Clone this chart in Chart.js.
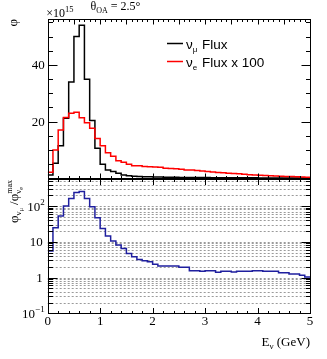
<!DOCTYPE html>
<html><head><meta charset="utf-8">
<script src="https://cdn.jsdelivr.net/npm/chart.js@4.4.0/dist/chart.umd.min.js"></script>
<style>
html,body{margin:0;padding:0;background:#fff;}
#wrap{position:relative;width:327px;height:359px;background:#fff;}
canvas{position:absolute;left:0;top:0;}
</style></head><body>
<div id="wrap"><canvas id="cTop" width="327" height="359"></canvas><canvas id="cBot" width="327" height="359"></canvas></div>
<script>
// ---- data (bins of 0.1 GeV) ----
const binEdges = [0,0.1,0.2,0.3,0.4,0.5,0.6,0.7,0.8,0.9,1.0,1.1,1.2,1.3,1.4,1.5,1.6,1.7,1.8,1.9,2.0,2.1,2.2,2.3,2.4,2.5,2.6,2.7,2.8,2.9,3.0,3.1,3.2,3.3,3.4,3.5,3.6,3.7,3.8,3.9,4.0,4.1,4.2,4.3,4.4,4.5,4.6,4.7,4.8,4.9,5.0];
// nu_mu flux, units of 10^15
const numuFlux = [1.2,5.3,11.5,21.2,34.0,50.0,54.0,35.0,20.4,10.6,
  5.0,3.0,2.4,1.8,1.2,0.9,0.8,0.65,0.6,0.55,
  0.5,0.46,0.43,0.4,0.38,0.36,0.34,0.32,0.31,0.3,
  0.28,0.27,0.26,0.25,0.24,0.23,0.22,0.21,0.2,0.19,
  0.18,0.17,0.16,0.15,0.15,0.14,0.13,0.12,0.12,0.11];
// nu_e flux x 100, units of 10^15
const nueFluxX100 = [2.2,10.0,17.1,21.5,23.0,23.3,21.4,19.6,17.7,14.1,
  11.5,9.0,7.8,6.2,5.7,5.0,4.5,4.5,4.2,4.1,
  4.0,3.9,3.6,3.5,3.4,3.2,3.0,2.95,2.8,2.6,
  2.4,2.25,2.1,1.95,1.85,1.7,1.6,1.45,1.3,1.2,
  1.1,1.0,0.95,0.85,0.8,0.7,0.65,0.55,0.5,0.42];
// ratio panel
const ratio = [5.5,24.6,53,100,163,240,256,163,95,47,
  23.7,14.4,10.5,8.1,6.5,4.7,3.8,3.2,2.95,2.76,
  2.34,2.1,2.1,2.1,2.1,1.93,1.93,1.55,1.55,1.49,
  1.55,1.55,1.40,1.49,1.49,1.43,1.49,1.49,1.49,1.55,
  1.55,1.49,1.49,1.49,1.36,1.36,1.25,1.25,1.15,1.03];
const xTickLabels = ['0','1','2','3','4','5'];
const topYTickValues = [20,40];
const botYTickValues = [0.1,1,10,100];
const botYTickExp = ['-1','0','1','2'];

const SERIF = '"Liberation Serif","Times New Roman",serif';
const SANS = '"Liberation Sans",Arial,sans-serif';

function histPoints(vals){
  return binEdges.map((e,i)=>({x:e, y: vals[Math.min(i, vals.length-1)]}));
}

// draw rich text: segs = [{t, size, dy, font}]
function richWidth(ctx, segs){
  let w=0; for(const s of segs){ ctx.font = s.size+'px '+(s.font||SERIF); w+=ctx.measureText(s.t).width + (s.dx||0);} return w;
}
function drawRich(ctx, segs, x, y, align){
  const w = richWidth(ctx, segs);
  let cx = align==='right' ? x-w : (align==='center' ? x-w/2 : x);
  ctx.textBaseline='alphabetic'; ctx.textAlign='left';
  for(const s of segs){
    ctx.font = s.size+'px '+(s.font||SERIF);
    ctx.fillStyle = s.color||'#000';
    ctx.fillText(s.t, cx, y+(s.dy||0));
    cx += ctx.measureText(s.t).width + (s.dx||0);
  }
}
function crisp(v){ return Math.round(v)+0.5; }

function drawXTicks(ctx, scale, yEdge, dir, step, majorEvery, majLen, minLen, midLen){
  const n = Math.round(5/step);
  ctx.beginPath();
  for(let i=0;i<=n;i++){
    const v = i*step;
    const px = crisp(scale.getPixelForValue(v));
    let len = minLen;
    if (Math.abs(v-Math.round(v))<1e-6) len = majLen;
    else if (midLen && Math.abs(v*2-Math.round(v*2))<1e-6) len = midLen;
    ctx.moveTo(px, yEdge); ctx.lineTo(px, yEdge + dir*len);
  }
  ctx.stroke();
}

const topPlugin = {
  id:'topDeco',
  afterDraw(chart){
    const ctx = chart.ctx, a = chart.chartArea, xs = chart.scales.x, ys = chart.scales.y;
    ctx.save();
    ctx.strokeStyle='#000'; ctx.lineWidth=1;
    const L=crisp(a.left), R=crisp(a.right), T=crisp(a.top), B=crisp(a.bottom);
    ctx.strokeRect(L,T,R-L,B-T);
    // y ticks
    ctx.beginPath();
    for(let v=0; v<=55; v+=5){
      const py = crisp(ys.getPixelForValue(v));
      const len = (v%20===0)?9:4.5;
      ctx.moveTo(L,py); ctx.lineTo(L+len,py);
      ctx.moveTo(R,py); ctx.lineTo(R-len,py);
    }
    ctx.stroke();
    drawXTicks(ctx, xs, B, -1, 0.2, 1, 5, 2.5);
    drawXTicks(ctx, xs, T, 1, 0.1, 1, 5, 2.5, 5);
    // y labels
    ctx.fillStyle='#000'; ctx.font='13px '+SERIF; ctx.textAlign='right'; ctx.textBaseline='middle';
    for(const v of topYTickValues){ ctx.fillText(String(v), a.left-3, ys.getPixelForValue(v)+0.5); }
    // x10^15
    drawRich(ctx, [{t:'\u00d710',size:12},{t:'15',size:8.5,dy:-5}], a.left-1.5, 16.5, 'left');
    // title
    drawRich(ctx, [{t:'\u03b8',size:12},{t:'OA',size:8,dy:3},{t:' = 2.5\u00b0',size:12}], 90.5, 10, 'left');
    // y title phi (rotated)
    ctx.save(); ctx.translate(17, a.top); ctx.rotate(-Math.PI/2);
    drawRich(ctx, [{t:'\u03c6',size:13}], 0, 0, 'right');
    ctx.restore();
    // legend
    const lx1=167, lx2=183;
    ctx.lineWidth=1.5;
    ctx.strokeStyle='#000'; ctx.beginPath(); ctx.moveTo(lx1,43.5); ctx.lineTo(lx2,43.5); ctx.stroke();
    ctx.strokeStyle='#ff0000'; ctx.beginPath(); ctx.moveTo(lx1,61.5); ctx.lineTo(lx2,61.5); ctx.stroke();
    drawRich(ctx, [{t:'\u03bd',size:13.5,font:SANS},{t:'\u03bc',size:8,dy:3,font:SANS,dx:1},{t:' Flux',size:13.5,font:SANS}], 186, 48.5, 'left');
    drawRich(ctx, [{t:'\u03bd',size:13.5,font:SANS},{t:'e',size:8,dy:3,font:SANS,dx:1},{t:' Flux x 100',size:13.5,font:SANS}], 186, 66.5, 'left');
    ctx.restore();
  }
};

const botPlugin = {
  id:'botDeco',
  beforeDatasetsDraw(chart){
    const ctx = chart.ctx, a = chart.chartArea, ys = chart.scales.y;
    ctx.save();
    ctx.strokeStyle='#9a9a9a'; ctx.lineWidth=1; ctx.setLineDash([2,2]);
    ctx.beginPath();
    for(let e=-1;e<=2;e++){
      for(let m=1;m<=9;m++){
        const v = m*Math.pow(10,e);
        if (v<=ys.min || v>=ys.max) continue;
        const py = crisp(ys.getPixelForValue(v));
        ctx.moveTo(a.left,py); ctx.lineTo(a.right,py);
      }
    }
    ctx.stroke();
    ctx.restore();
  },
  afterDraw(chart){
    const ctx = chart.ctx, a = chart.chartArea, xs = chart.scales.x, ys = chart.scales.y;
    ctx.save();
    ctx.strokeStyle='#000'; ctx.lineWidth=1;
    const L=crisp(a.left), R=crisp(a.right), T=crisp(a.top), B=crisp(a.bottom);
    ctx.strokeRect(L,T,R-L,B-T);
    ctx.beginPath();
    for(let e=-1;e<=2;e++){
      for(let m=1;m<=9;m++){
        const v = m*Math.pow(10,e);
        if (v<ys.min-1e-9 || v>ys.max) continue;
        const py = crisp(ys.getPixelForValue(v));
        const len = m===1?9:4.5;
        ctx.moveTo(L,py); ctx.lineTo(L+len,py);
        ctx.moveTo(R,py); ctx.lineTo(R-len,py);
      }
    }
    ctx.stroke();
    drawXTicks(ctx, xs, B, -1, 0.2, 1, 5.5, 2.5);
    drawXTicks(ctx, xs, T, 1, 0.2, 1, 5.5, 2.5);
    // y labels
    botYTickValues.forEach((v,i)=>{
      const py = ys.getPixelForValue(v)+4.5;
      if (v===1) drawRich(ctx,[{t:'1',size:13}], a.left-5, py, 'right');
      else if (v===10) drawRich(ctx,[{t:'10',size:13}], a.left-5, py, 'right');
      else drawRich(ctx,[{t:'10',size:13},{t:(botYTickExp[i]==='-1'?'\u22121':botYTickExp[i]),size:9,dy:-6}], a.left-3, py, 'right');
    });
    // x labels
    ctx.fillStyle='#000'; ctx.font='13px '+SERIF; ctx.textAlign='center'; ctx.textBaseline='middle';
    xTickLabels.forEach((t,i)=>{ ctx.fillText(t, xs.getPixelForValue(i), 322); });
    // x title
    drawRich(ctx,[{t:'E',size:13},{t:'\u03bd',size:9,dy:3},{t:' (GeV)',size:13}], a.right, 346, 'right');
    // y title rotated
    ctx.save(); ctx.translate(18, a.top+1); ctx.rotate(-Math.PI/2);
    const segs = [{t:'\u03c6',size:13},{t:'\u03bd',size:9,dy:3},{t:'\u03bc',size:6,dy:5},{t:' /\u03c6',size:13}];
    const wMain = richWidth(ctx, segs);
    ctx.font='8px '+SERIF; const wMax = ctx.measureText('max').width;
    const total = wMain + wMax;
    drawRich(ctx, segs, -total, 0, 'left');
    drawRich(ctx, [{t:'max',size:8}], -wMax, -6, 'left');
    drawRich(ctx, [{t:'\u03bd',size:9},{t:'e',size:6,dy:2}], -wMax, 3, 'left');
    ctx.restore();
    ctx.restore();
  }
};

const common = {
  responsive:false, animation:false, devicePixelRatio:1,
  plugins:{legend:{display:false}, tooltip:{enabled:false}},
  elements:{point:{radius:0}, line:{tension:0}},
};

new Chart(document.getElementById('cTop'), {
  type:'line',
  data:{datasets:[
    {data:histPoints(nueFluxX100), borderColor:'#ff0000', borderWidth:1.5, stepped:true, fill:false},
    {data:histPoints(numuFlux), borderColor:'#000000', borderWidth:1.5, stepped:true, fill:false}
  ]},
  options:Object.assign({}, common, {
    layout:{padding:{left:47.7, right:17, top:19, bottom:180.6}},
    scales:{x:{type:'linear',min:0,max:5,display:false}, y:{type:'linear',min:0,max:56.2,display:false}}
  }),
  plugins:[topPlugin]
});

new Chart(document.getElementById('cBot'), {
  type:'line',
  data:{datasets:[
    {data:histPoints(ratio), borderColor:'#1f1f9e', borderWidth:1.5, stepped:true, fill:false}
  ]},
  options:Object.assign({}, common, {
    layout:{padding:{left:47.7, right:17, top:179, bottom:45.7}},
    scales:{x:{type:'linear',min:0,max:5,display:false}, y:{type:'logarithmic',min:0.1,max:570,display:false}}
  }),
  plugins:[botPlugin]
});
</script>
</body></html>
